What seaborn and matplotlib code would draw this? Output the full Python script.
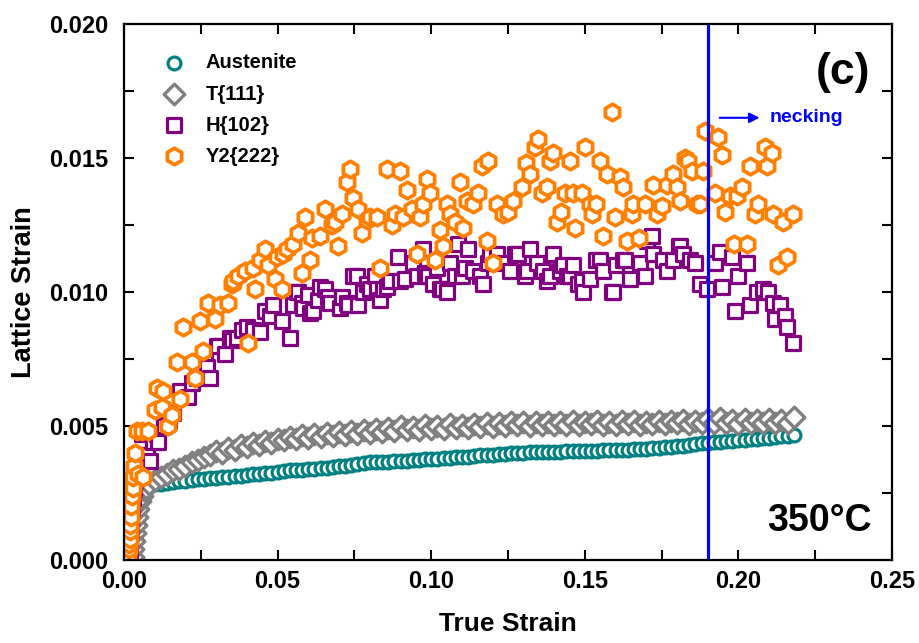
import numpy as np
import pandas as pd
import matplotlib
matplotlib.use("Agg")
import matplotlib.pyplot as plt
import seaborn as sns
from matplotlib.ticker import MultipleLocator, FormatStrFormatter

# Austenite (teal circles)
aus_x = [0.0008, 0.0010, 0.0012, 0.0014, 0.0016, 0.0019, 0.0023, 0.0028, 0.0035, 0.0045,
         0.0055, 0.0065, 0.008, 0.010, 0.012, 0.014, 0.016, 0.018, 0.020, 0.022,
         0.024, 0.026, 0.028, 0.030, 0.032, 0.034, 0.036, 0.038, 0.040, 0.042,
         0.044, 0.046, 0.048, 0.050, 0.052, 0.054, 0.056, 0.058, 0.060, 0.062,
         0.064, 0.066, 0.068, 0.070, 0.072, 0.074, 0.076, 0.078, 0.080, 0.082,
         0.084, 0.086, 0.088, 0.090, 0.092, 0.094, 0.096, 0.098, 0.100, 0.102,
         0.104, 0.106, 0.108, 0.110, 0.112, 0.114, 0.116, 0.118, 0.120, 0.122,
         0.124, 0.126, 0.128, 0.130, 0.132, 0.134, 0.136, 0.138, 0.140, 0.142,
         0.144, 0.146, 0.148, 0.150, 0.152, 0.154, 0.156, 0.158, 0.160, 0.162,
         0.164, 0.166, 0.168, 0.170, 0.172, 0.174, 0.176, 0.178, 0.180, 0.182,
         0.184, 0.186, 0.188, 0.190, 0.192, 0.194, 0.196, 0.198, 0.200, 0.202,
         0.204, 0.206, 0.208, 0.210, 0.212, 0.214, 0.216, 0.218]
aus_y = [0.0002, 0.0006, 0.0010, 0.0014, 0.0018, 0.0022, 0.0025, 0.0026, 0.0027, 0.0027,
         0.0027, 0.0028, 0.00280, 0.00282, 0.00285, 0.00288, 0.00290, 0.00293, 0.00296, 0.00298,
         0.00302, 0.00303, 0.00305, 0.00307, 0.00309, 0.00311, 0.00313, 0.00315, 0.00317, 0.00320,
         0.00322, 0.00324, 0.00326, 0.00330, 0.00332, 0.00334, 0.00335, 0.00337, 0.00339, 0.00341,
         0.00343, 0.00345, 0.00347, 0.00349, 0.00351, 0.00354, 0.00358, 0.00362, 0.00364, 0.00365,
         0.00366, 0.00367, 0.00369, 0.00370, 0.00371, 0.00372, 0.00374, 0.00375, 0.00377, 0.00378,
         0.00380, 0.00381, 0.00383, 0.00384, 0.00386, 0.00388, 0.00390, 0.00391, 0.00393, 0.00395,
         0.00397, 0.00399, 0.00400, 0.00401, 0.00402, 0.00402, 0.00403, 0.00403, 0.00404, 0.00404,
         0.00405, 0.00405, 0.00406, 0.00407, 0.00408, 0.00408, 0.00409, 0.00410, 0.00411, 0.00412,
         0.00412, 0.00413, 0.00414, 0.00415, 0.00416, 0.00418, 0.00420, 0.00422, 0.00424, 0.00426,
         0.00429, 0.00432, 0.00435, 0.00437, 0.00439, 0.00441, 0.00443, 0.00445, 0.00447, 0.00449,
         0.00451, 0.00453, 0.00455, 0.00457, 0.00459, 0.00461, 0.00463, 0.00467]

# T{111} (grey diamonds)
t111_x = [0.0028, 0.0030, 0.0032, 0.0035, 0.0038, 0.0042, 0.0046, 0.0051, 0.0057, 0.0064,
          0.0072, 0.008, 0.010, 0.012, 0.014, 0.016, 0.018, 0.020, 0.022, 0.024,
          0.026, 0.028, 0.030, 0.032, 0.034, 0.036, 0.038, 0.040, 0.042, 0.044,
          0.046, 0.048, 0.050, 0.052, 0.054, 0.056, 0.058, 0.060, 0.062, 0.064,
          0.066, 0.068, 0.070, 0.072, 0.074, 0.076, 0.078, 0.080, 0.082, 0.084,
          0.086, 0.088, 0.090, 0.092, 0.094, 0.096, 0.098, 0.100, 0.102, 0.104,
          0.106, 0.108, 0.110, 0.112, 0.114, 0.116, 0.118, 0.120, 0.122, 0.124,
          0.126, 0.128, 0.130, 0.132, 0.134, 0.136, 0.138, 0.140, 0.142, 0.144,
          0.146, 0.148, 0.150, 0.152, 0.154, 0.156, 0.158, 0.160, 0.162, 0.164,
          0.166, 0.168, 0.170, 0.172, 0.174, 0.176, 0.178, 0.180, 0.182, 0.184,
          0.186, 0.188, 0.190, 0.192, 0.194, 0.196, 0.198, 0.200, 0.202, 0.204,
          0.206, 0.208, 0.210, 0.212, 0.214, 0.216, 0.218]
t111_y = [0.0001, 0.0004, 0.0007, 0.0010, 0.0013, 0.0016, 0.0019, 0.0022, 0.0024, 0.0026,
          0.0027, 0.00285, 0.00300, 0.00308, 0.00322, 0.00335, 0.00340, 0.00352, 0.00365, 0.00372,
          0.00385, 0.00392, 0.00405, 0.00400, 0.00418, 0.00412, 0.00428, 0.00420, 0.00436, 0.00430,
          0.00445, 0.00438, 0.00452, 0.00446, 0.00460, 0.00450, 0.00466, 0.00455, 0.00470, 0.00460,
          0.00474, 0.00462, 0.00476, 0.00468, 0.00482, 0.00470, 0.00486, 0.00474, 0.00490, 0.00478,
          0.00492, 0.00482, 0.00500, 0.00485, 0.00498, 0.00486, 0.00502, 0.00490, 0.00500, 0.00488,
          0.00506, 0.00492, 0.00504, 0.00494, 0.00508, 0.00495, 0.00510, 0.00498, 0.00512, 0.00500,
          0.00514, 0.00502, 0.00515, 0.00500, 0.00516, 0.00504, 0.00514, 0.00502, 0.00516, 0.00505,
          0.00518, 0.00503, 0.00515, 0.00506, 0.00518, 0.00505, 0.00514, 0.00503, 0.00518, 0.00506,
          0.00520, 0.00505, 0.00516, 0.00508, 0.00520, 0.00506, 0.00518, 0.00510, 0.00522, 0.00508,
          0.00520, 0.00512, 0.00525, 0.00510, 0.00528, 0.00512, 0.00522, 0.00508, 0.00526, 0.00512,
          0.00524, 0.00510, 0.00526, 0.00512, 0.00522, 0.00510, 0.00532]

# H{102} (purple squares)
h102_x = [0.0018, 0.0020, 0.0022, 0.0024, 0.0026, 0.0028, 0.0031, 0.0035, 0.0045, 0.0052,
          0.0058, 0.0074, 0.0085, 0.0095, 0.0106, 0.0112, 0.0130, 0.0145, 0.0160, 0.0182,
          0.0209, 0.0220, 0.0237, 0.0264, 0.0269, 0.0280, 0.0302, 0.0307, 0.0329, 0.0345,
          0.0350, 0.0367, 0.0385, 0.0399, 0.0421, 0.0443, 0.0459, 0.0475, 0.0486, 0.0513,
          0.0540, 0.0551, 0.0562, 0.0567, 0.0578, 0.0584, 0.0600, 0.0605, 0.0616, 0.0632,
          0.0638, 0.0654, 0.0665, 0.0670, 0.0703, 0.0708, 0.0725, 0.0730, 0.0746, 0.0757,
          0.0763, 0.0779, 0.0790, 0.0801, 0.0817, 0.0822, 0.0833, 0.0844, 0.0855, 0.0866,
          0.0893, 0.0898, 0.0915, 0.0942, 0.0953, 0.0974, 0.0980, 0.0991, 0.1007, 0.1018,
          0.1029, 0.1034, 0.1050, 0.1061, 0.1077, 0.1088, 0.1099, 0.1110, 0.1121, 0.1137,
          0.1159, 0.1170, 0.1186, 0.1191, 0.1213, 0.1230, 0.1256, 0.1273, 0.1284, 0.1305,
          0.1311, 0.1322, 0.1343, 0.1365, 0.1376, 0.1387, 0.1397, 0.1419, 0.1430, 0.1441,
          0.1452, 0.1462, 0.1478, 0.1490, 0.1495, 0.1517, 0.1538, 0.1549, 0.1560, 0.1587,
          0.1593, 0.1603, 0.1625, 0.1630, 0.1647, 0.1680, 0.1696, 0.1701, 0.1718, 0.1723,
          0.1756, 0.1766, 0.1788, 0.1806, 0.1810, 0.1821, 0.1842, 0.1859, 0.1875, 0.1897,
          0.1924, 0.1940, 0.1945, 0.1978, 0.1989, 0.2000, 0.2027, 0.2038, 0.2060, 0.2081,
          0.2097, 0.2114, 0.2119, 0.2135, 0.2152, 0.2157, 0.2179]
h102_y = [0.0003, 0.0007, 0.0011, 0.0015, 0.0019, 0.0023, 0.0027, 0.0030, 0.0032, 0.0033,
          0.0047, 0.0039, 0.0037, 0.0044, 0.0047, 0.0044, 0.0050, 0.0052, 0.0055, 0.0063,
          0.0061, 0.0066, 0.0068, 0.0075, 0.0072, 0.0068, 0.0080, 0.0080, 0.0077, 0.0083,
          0.0082, 0.0083, 0.0086, 0.0087, 0.0086, 0.0085, 0.0093, 0.0091, 0.0095, 0.0089,
          0.0083, 0.0095, 0.0100, 0.0100, 0.0096, 0.0094, 0.0099, 0.0092, 0.0093, 0.0097,
          0.0102, 0.0101, 0.0098, 0.0096, 0.0094, 0.0098, 0.0096, 0.0095, 0.0106, 0.0106,
          0.0095, 0.0100, 0.0103, 0.0101, 0.0106, 0.0101, 0.0097, 0.0101, 0.0102, 0.0104,
          0.0113, 0.0104, 0.0105, 0.0111, 0.0106, 0.0116, 0.0107, 0.0106, 0.0103, 0.0109,
          0.0101, 0.0101, 0.0100, 0.0111, 0.0106, 0.0118, 0.0106, 0.0109, 0.0116, 0.0108,
          0.0106, 0.0103, 0.0111, 0.0114, 0.0114, 0.0111, 0.0108, 0.0114, 0.0114, 0.0106,
          0.0108, 0.0116, 0.0111, 0.0108, 0.0104, 0.0106, 0.0114, 0.0108, 0.0110, 0.0106,
          0.0106, 0.0110, 0.0103, 0.0104, 0.0100, 0.0105, 0.0112, 0.0112, 0.0108, 0.0100,
          0.0100, 0.0110, 0.0112, 0.0112, 0.0105, 0.0111, 0.0106, 0.0119, 0.0121, 0.0114,
          0.0112, 0.0108, 0.0112, 0.0117, 0.0117, 0.0114, 0.0112, 0.0111, 0.0103, 0.0101,
          0.0111, 0.0115, 0.0102, 0.0113, 0.0093, 0.0106, 0.0111, 0.0095, 0.0100, 0.0101,
          0.0100, 0.0096, 0.0090, 0.0095, 0.0091, 0.0087, 0.0081]

# Y2{222} (orange hexagons)
y2_x = [0.0012, 0.0015, 0.0017, 0.0018, 0.0019, 0.0021, 0.0022, 0.0023, 0.0025, 0.0028,
        0.0030, 0.0033, 0.0036, 0.0041, 0.0047, 0.0058, 0.0063, 0.0079, 0.0101, 0.0106,
        0.0123, 0.0128, 0.0144, 0.0155, 0.0171, 0.0182, 0.0193, 0.0220, 0.0231, 0.0247,
        0.0258, 0.0274, 0.0296, 0.0313, 0.0340, 0.0350, 0.0356, 0.0372, 0.0394, 0.0405,
        0.0421, 0.0426, 0.0443, 0.0459, 0.0470, 0.0492, 0.0497, 0.0513, 0.0519, 0.0530,
        0.0551, 0.0567, 0.0578, 0.0589, 0.0605, 0.0611, 0.0638, 0.0654, 0.0676, 0.0687,
        0.0698, 0.0709, 0.0725, 0.0736, 0.0746, 0.0763, 0.0774, 0.0790, 0.0801, 0.0822,
        0.0833, 0.0855, 0.0871, 0.0882, 0.0898, 0.0909, 0.0920, 0.0937, 0.0953, 0.0964,
        0.0974, 0.0985, 0.0996, 0.1012, 0.1029, 0.1039, 0.1050, 0.1061, 0.1077, 0.1094,
        0.1104, 0.1116, 0.1137, 0.1153, 0.1164, 0.1181, 0.1186, 0.1202, 0.1213, 0.1235,
        0.1251, 0.1267, 0.1294, 0.1310, 0.1321, 0.1338, 0.1349, 0.1360, 0.1376, 0.1387,
        0.1397, 0.1408, 0.1424, 0.1435, 0.1452, 0.1462, 0.1468, 0.1490, 0.1501, 0.1517,
        0.1522, 0.1538, 0.1549, 0.1560, 0.1571, 0.1587, 0.1598, 0.1615, 0.1625, 0.1636,
        0.1653, 0.1658, 0.1675, 0.1696, 0.1723, 0.1734, 0.1750, 0.1766, 0.1788, 0.1799,
        0.1810, 0.1826, 0.1837, 0.1848, 0.1864, 0.1875, 0.1886, 0.1891, 0.1924, 0.1935,
        0.1945, 0.1956, 0.1973, 0.1984, 0.1994, 0.2011, 0.2027, 0.2038, 0.2054, 0.2065,
        0.2087, 0.2092, 0.2108, 0.2113, 0.2130, 0.2146, 0.2157, 0.2179]
y2_y = [0.0002, 0.0004, 0.0006, 0.0008, 0.0011, 0.0013, 0.0016, 0.0020, 0.0024, 0.0027,
        0.0031, 0.0035, 0.0040, 0.0048, 0.0032, 0.0048, 0.0031, 0.0048, 0.0056, 0.0064,
        0.0057, 0.0063, 0.0050, 0.0054, 0.0074, 0.0060, 0.0087, 0.0074, 0.0068, 0.0089,
        0.0078, 0.0096, 0.0090, 0.0095, 0.0096, 0.0103, 0.0104, 0.0106, 0.0108, 0.0081,
        0.0109, 0.0101, 0.0112, 0.0116, 0.0110, 0.0105, 0.0113, 0.0101, 0.0114, 0.0116,
        0.0118, 0.0122, 0.0107, 0.0128, 0.0112, 0.0120, 0.0121, 0.0131, 0.0125, 0.0126,
        0.0117, 0.0129, 0.0141, 0.0146, 0.0135, 0.0131, 0.0122, 0.0127, 0.0128, 0.0128,
        0.0109, 0.0146, 0.0125, 0.0129, 0.0145, 0.0128, 0.0138, 0.0131, 0.0114, 0.0128,
        0.0133, 0.0142, 0.0137, 0.0112, 0.0123, 0.0117, 0.0133, 0.0129, 0.0126, 0.0141,
        0.0124, 0.0134, 0.0133, 0.0137, 0.0147, 0.0119, 0.0149, 0.0111, 0.0133, 0.0129,
        0.0130, 0.0134, 0.0139, 0.0148, 0.0144, 0.0154, 0.0157, 0.0137, 0.0139, 0.0149,
        0.0152, 0.0126, 0.0130, 0.0137, 0.0149, 0.0137, 0.0124, 0.0137, 0.0154, 0.0133,
        0.0129, 0.0133, 0.0149, 0.0121, 0.0144, 0.0167, 0.0128, 0.0143, 0.0139, 0.0119,
        0.0129, 0.0133, 0.0120, 0.0133, 0.0140, 0.0129, 0.0132, 0.0140, 0.0144, 0.0139,
        0.0134, 0.0150, 0.0149, 0.0145, 0.0133, 0.0133, 0.0145, 0.0160, 0.0137, 0.0158,
        0.0151, 0.0130, 0.0136, 0.0118, 0.0136, 0.0139, 0.0118, 0.0147, 0.0129, 0.0133,
        0.0154, 0.0147, 0.0152, 0.0129, 0.0110, 0.0126, 0.0113, 0.0129]

necking_strain = 0.19

sns.set_theme(style="ticks")
plt.rcParams['font.family'] = ['Liberation Sans', 'DejaVu Sans']
plt.rcParams['font.weight'] = 'bold'
for key in ['text.color', 'axes.labelcolor', 'xtick.color', 'ytick.color', 'axes.edgecolor']:
    plt.rcParams[key] = 'black'

fig = plt.figure(figsize=(9.2, 6.43), dpi=100)
ax = fig.add_axes([0.1348, 0.1291, 0.8348, 0.8336])

series = [
    ("Austenite", aus_x, aus_y, "#008080", "o", 85, 2.3),
    ("T{111}", t111_x, t111_y, "#808080", "D", 110, 2.4),
    ("H{102}", h102_x, h102_y, "#800080", "s", 92, 2.3),
    ("Y2{222}", y2_x, y2_y, "#FF8000", "h", 140, 2.7),
]
for name, xs, ys, col, mk, size, lw in series:
    df = pd.DataFrame({"strain": xs, "lattice": ys})
    sns.scatterplot(data=df, x="strain", y="lattice", ax=ax, marker=mk, s=size,
                    facecolor="white", edgecolor=col, linewidth=lw, label=name)

ax.axvline(necking_strain, color="#0000FF", lw=2.3)
ax.annotate("", xy=(0.2078, 0.01650), xytext=(0.1930, 0.01650),
            arrowprops=dict(arrowstyle="-|>", color="#0000FF", lw=1.5, mutation_scale=15))
ax.text(0.2103, 0.01650, "necking", color="#0000FF", fontsize=14, fontweight="bold",
        va="center", ha="left")
ax.text(0.2428, 0.0182, "(c)", fontsize=32, fontweight="bold", ha="right", va="center")
ax.text(0.2435, 0.00146, "350\u00b0C", fontsize=27, fontweight="bold", ha="right", va="center")

ax.set_xlim(0, 0.25)
ax.set_ylim(0, 0.020)
ax.xaxis.set_major_locator(MultipleLocator(0.05))
ax.xaxis.set_minor_locator(MultipleLocator(0.025))
ax.yaxis.set_major_locator(MultipleLocator(0.005))
ax.yaxis.set_minor_locator(MultipleLocator(0.0025))
ax.xaxis.set_major_formatter(FormatStrFormatter("%.2f"))
ax.yaxis.set_major_formatter(FormatStrFormatter("%.3f"))
ax.tick_params(which="both", direction="in", top=True, right=True,
               length=7, width=1.5, colors="black")
ax.tick_params(axis="x", which="major", labelsize=17, pad=7)
ax.tick_params(axis="y", which="major", labelsize=17, pad=11)
for lab in ax.get_xticklabels() + ax.get_yticklabels():
    lab.set_fontweight("bold")
for sp in ax.spines.values():
    sp.set_linewidth(1.6)
    sp.set_color("black")

ax.set_xlabel("True Strain", fontsize=19, fontweight="bold", labelpad=14)
ax.set_ylabel("Lattice Strain", fontsize=19.5, fontweight="bold", labelpad=9)

leg = ax.legend(loc="upper left", bbox_to_anchor=(0.039, 0.96), frameon=False,
                prop={"weight": "bold", "size": 14.5},
                handletextpad=0.95, labelspacing=0.6, handlelength=1.2,
                borderaxespad=0, scatterpoints=1)

fig.savefig("out.png", dpi=100)
